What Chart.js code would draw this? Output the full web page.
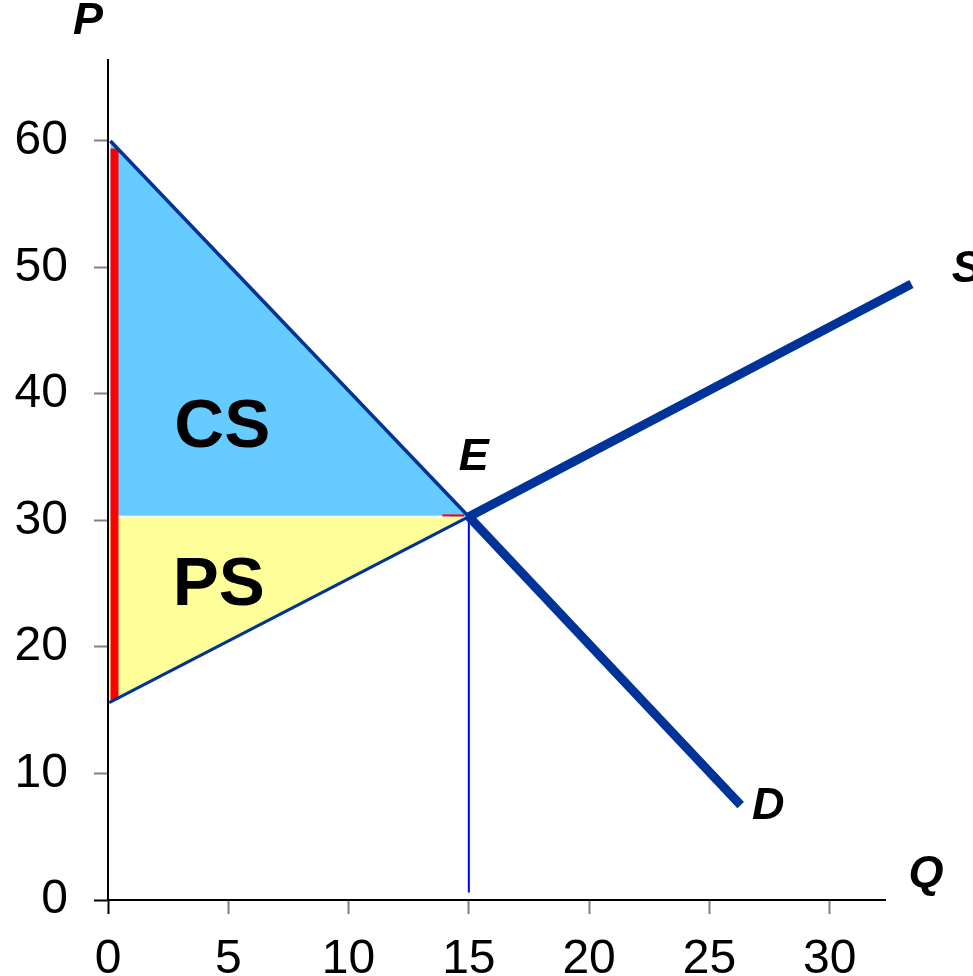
<!DOCTYPE html>
<html>
<head>
<meta charset="utf-8">
<script src="https://cdn.jsdelivr.net/npm/chart.js@4"></script>
<style>
  html, body { margin: 0; padding: 0; background: #fff; }
  #wrap { position: relative; width: 973px; height: 976px; }
</style>
</head>
<body>
<div id="wrap"><canvas id="c"></canvas></div>
<script>
// ---- data ----
const demandQ = [0.1, 15, 26.3];
const demandP = [60, 30.3, 7.5];
const supplyQ = [0.05, 15, 33.4];
const supplyP = [15.6, 30.3, 48.7];
const eqQ = 15;
const eqP = 30.3;
const xTicks = [0, 5, 10, 15, 20, 25, 30];
const yTicks = [0, 10, 20, 30, 40, 50, 60];
const redQ = 0.27;
const redP = [15.8, 59.4];

const pts = (xs, ys) => xs.map((x, i) => ({ x: x, y: ys[i] }));
const demandPts = pts(demandQ, demandP);
const supplyPts = pts(supplyQ, supplyP);

const labels = [
  { text: 'P', x: -0.83, y: 69.4, font: 'italic bold 45px "Liberation Sans"' },
  { text: 'Q', x: 34.0, y: 2.0, font: 'italic bold 45px "Liberation Sans"' },
  { text: 'S', x: 35.7, y: 49.8, font: 'italic bold 45px "Liberation Sans"' },
  { text: 'D', x: 27.45, y: 7.4, font: 'italic bold 45px "Liberation Sans"' },
  { text: 'E', x: 15.2, y: 35.0, font: 'italic bold 45px "Liberation Sans"' },
  { text: 'CS', x: 4.75, y: 37.3, font: 'bold 69px "Liberation Sans"' },
  { text: 'PS', x: 4.6, y: 24.8, font: 'bold 69px "Liberation Sans"' }
];

const textPlugin = {
  id: 'texts',
  afterDatasetsDraw(chart) {
    const c = chart.ctx, xs = chart.scales.x, ys = chart.scales.y;
    c.save();
    c.fillStyle = '#000';
    c.textAlign = 'center';
    c.textBaseline = 'middle';
    labels.forEach(l => {
      c.font = l.font;
      c.fillText(l.text, xs.getPixelForValue(l.x), ys.getPixelForValue(l.y));
    });
    c.restore();
  }
};

const tickCol = ctx => (ctx.tick && ctx.tick.value === 0) ? '#000' : '#808080';

new Chart(document.getElementById('c'), {
  type: 'line',
  data: {
    datasets: [
      { // CS fill
        data: demandPts.slice(0, 2), borderWidth: 0, pointRadius: 0,
        backgroundColor: '#66CCFF', fill: { value: eqP }, order: 10
      },
      { // PS fill
        data: supplyPts.slice(0, 2), borderWidth: 0, pointRadius: 0,
        backgroundColor: '#FFFF99', fill: { value: eqP }, order: 9
      },
      { // white separator
        data: [{ x: 0.3, y: eqP }, { x: 14.2, y: eqP }], borderColor: '#FFFFFF',
        borderWidth: 2, pointRadius: 0, fill: false, order: 8
      },
      { // red small tick near E
        data: [{ x: 13.9, y: eqP + 0.1 }, { x: 14.8, y: eqP + 0.1 }], borderColor: '#FF0000',
        borderWidth: 2, pointRadius: 0, fill: false, order: 7
      },
      { // red vertical
        data: redP.map(p => ({ x: redQ, y: p })), borderColor: '#FF0000',
        borderWidth: 8, pointRadius: 0, fill: false, order: 6
      },
      { // vertical drop line
        data: [{ x: eqQ, y: eqP }, { x: eqQ, y: 0.6 }], borderColor: '#0000FF',
        borderWidth: 2, pointRadius: 0, fill: false, order: 5
      },
      { // demand
        data: demandPts, borderColor: '#003399', pointRadius: 0, fill: false,
        borderCapStyle: 'butt', order: 2,
        segment: { borderWidth: ctx => ctx.p0DataIndex === 0 ? 3.5 : 9 }
      },
      { // supply
        data: supplyPts, borderColor: '#003399', pointRadius: 0, fill: false,
        borderCapStyle: 'butt', order: 1,
        segment: { borderWidth: ctx => ctx.p0DataIndex === 0 ? 3 : 9 }
      }
    ]
  },
  options: {
    responsive: true,
    maintainAspectRatio: false,
    devicePixelRatio: 1,
    animation: false,
    clip: false,
    layout: { padding: { left: 0, top: 60, right: 88, bottom: 0 } },
    plugins: { legend: { display: false }, tooltip: { enabled: false } },
    elements: { line: { tension: 0 } },
    scales: {
      x: {
        type: 'linear', min: 0, max: 32.3,
        afterBuildTicks: s => { s.ticks = xTicks.map(v => ({ value: v })); },
        afterFit: s => { s.height = 76; },
        grid: { drawOnChartArea: false, drawTicks: true, tickLength: 14, tickColor: tickCol, tickWidth: 2 },
        border: { display: true, color: '#000', width: 2 },
        ticks: { color: '#000', padding: 17, font: { family: 'Liberation Sans', size: 48 } }
      },
      y: {
        type: 'linear', min: 0, max: 66.4,
        afterBuildTicks: s => { s.ticks = yTicks.map(v => ({ value: v })); },
        afterFit: s => { s.width = 108; },
        grid: { drawOnChartArea: false, drawTicks: true, tickLength: 14, tickColor: tickCol, tickWidth: 2 },
        border: { display: true, color: '#000', width: 2 },
        ticks: { color: '#000', padding: 26, font: { family: 'Liberation Sans', size: 48 } }
      }
    }
  },
  plugins: [textPlugin]
});
</script>
</body>
</html>
